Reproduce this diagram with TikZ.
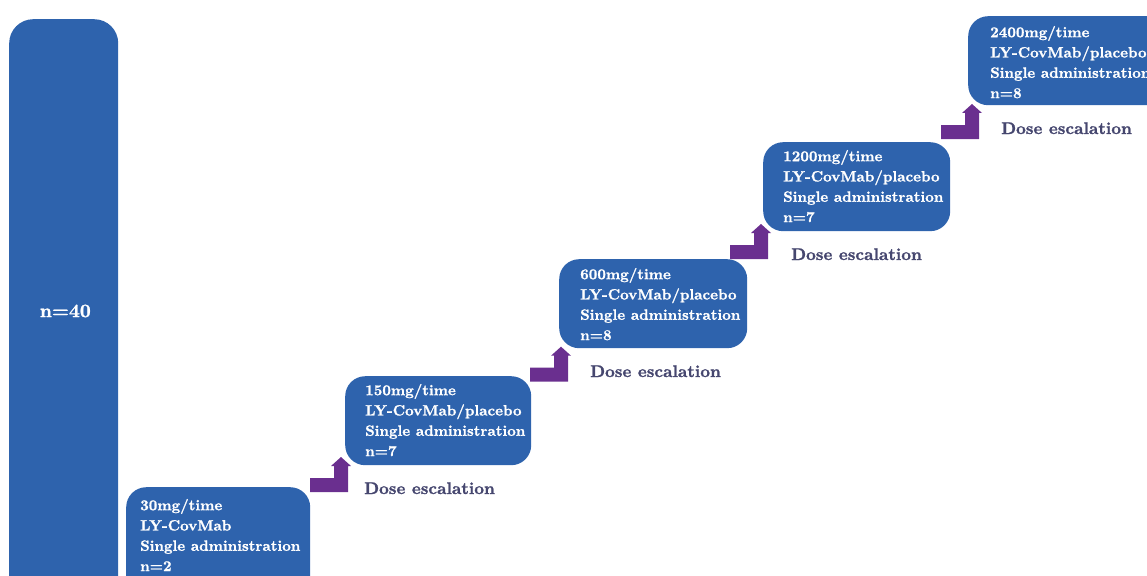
\documentclass[tikz,border=0pt]{standalone}
\usepackage{fontspec}
% heavier bold face for all lettering
\newfontfamily\heavyfont{lmroman10-bold}[Extension=.otf, FakeBold=1.2]
\definecolor{boxblue}{HTML}{2E63AD}
\definecolor{steparrow}{HTML}{6A2F8F}
\definecolor{labelink}{HTML}{46476F}

\begin{document}
\begin{tikzpicture}[x=1pt,y=-1pt,
  panel/.style={rectangle, fill=boxblue, rounded corners=20pt, inner sep=0pt,
                minimum width=186pt, minimum height=89pt, anchor=north west},
  info/.style={anchor=north west, inner sep=0pt, align=left, text=white,
               font=\heavyfont\fontsize{14.9}{20.3}\selectfont},
  escal/.style={anchor=base west, inner sep=0pt, text=labelink,
                font=\heavyfont\fontsize{16.9}{20}\selectfont},
  stepup/.pic={
    \fill[steparrow] (0,0) -- (38,0) -- (38,-26) -- (41,-26) -- (31,-35)
      -- (21,-26) -- (24,-26) -- (24,-14) -- (0,-14) -- cycle;
  }]
\useasboundingbox (0,0) rectangle (1147,575);
\clip (0,0) rectangle (1147,575);

% total cohort column
\node[rectangle, fill=boxblue, rounded corners=24pt, inner sep=0pt,
      minimum width=109pt, minimum height=600pt, anchor=north west] (total) at (9,19) {};
\node[text=white, inner sep=0pt, font=\heavyfont\fontsize{19}{22}\selectfont] (totaltxt) at (65.3,311) {n=40};

% dose cohorts
\node[panel, minimum width=184pt, minimum height=120pt] (b1) at (126,487) {};
\node[panel] (b2) at (345,376) {};
\node[panel, minimum width=188pt] (b3) at (559,259) {};
\node[panel, minimum width=187pt] (b4) at (763,142) {};
\node[panel, minimum width=200pt] (b5) at (968,16) {};

\node[info] (t1) at (140,498.8) {30mg/time\\LY-CovMab\\Single administration\\n=2};
\node[info] (t2) at (365,383.8) {150mg/time\\LY-CovMab/placebo\\Single administration\\n=7};
\node[info] (t3) at (580,267.8) {600mg/time\\LY-CovMab/placebo\\Single administration\\n=8};
\node[info] (t4) at (783,149.8) {1200mg/time\\LY-CovMab/placebo\\Single administration\\n=7};
\node[info] (t5) at (990,25.8) {2400mg/time\\LY-CovMab/placebo\\Single administration\\n=8};

% escalation steps
\pic at (310,492) {stepup};
\pic at (530,381.7) {stepup};
\pic at (730,259) {stepup};
\pic at (941,139) {stepup};

\node[escal] (e1) at (364,494) {Dose escalation};
\node[escal] (e2) at (590,377) {Dose escalation};
\node[escal] (e3) at (791,260) {Dose escalation};
\node[escal] (e4) at (1001,134) {Dose escalation};
\end{tikzpicture}
\end{document}
